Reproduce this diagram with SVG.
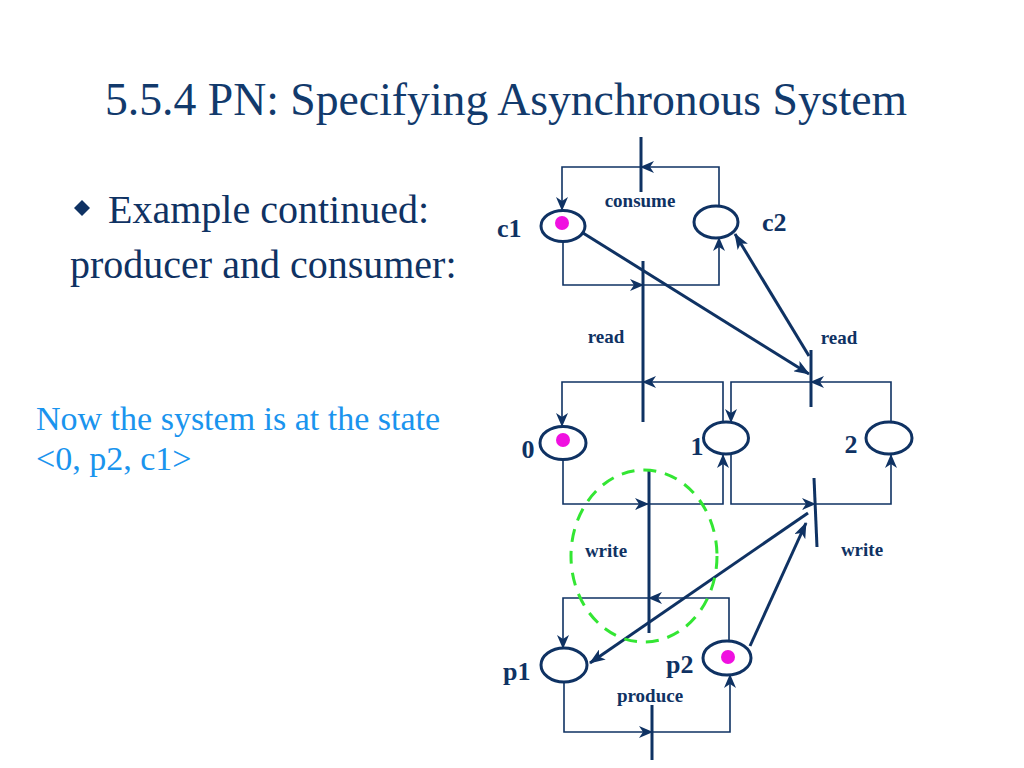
<svg xmlns="http://www.w3.org/2000/svg" width="1024" height="768" viewBox="0 0 1024 768">
<defs>
<style>
.title{font-family:"Liberation Serif","Times New Roman",serif;font-size:45.7px;fill:#123a6c}
.body{font-family:"Liberation Serif","Times New Roman",serif;font-size:40px;fill:#0f3263}
.note{font-family:"Liberation Serif","Times New Roman",serif;font-size:34px;fill:#1a94ee}
.lbl{font-family:"Liberation Serif","Times New Roman",serif;font-weight:bold;font-size:26px;fill:#0f3263}
.tl{font-family:"Liberation Serif","Times New Roman",serif;font-weight:bold;font-size:19px;fill:#0f3263}
.place{fill:#fff;stroke:#0f3263;stroke-width:3}
.token{fill:#f010e0}
.bar{stroke:#0f3263;stroke-width:3;fill:none}
.thin{stroke:#0f3263;stroke-width:1.6;fill:none;marker-end:url(#ah)}
.thick{stroke:#0f3263;stroke-width:3;fill:none;marker-end:url(#ahb)}
.hl{fill:none;stroke:#33e633;stroke-width:3;stroke-dasharray:13 9}
</style>
<marker id="ah" viewBox="0 0 14 12" refX="13" refY="6" markerWidth="14" markerHeight="12" markerUnits="userSpaceOnUse" orient="auto">
<path d="M0,0 L14,6 L0,12 L4,6 z" fill="#0f3263"/>
</marker>
<marker id="ahb" viewBox="0 0 16 12" refX="15" refY="6" markerWidth="16" markerHeight="12" markerUnits="userSpaceOnUse" orient="auto">
<path d="M0,0 L16,6 L0,12 L4,6 z" fill="#0f3263"/>
</marker>
</defs>
<rect width="1024" height="768" fill="#fff"/>

<text class="title" x="105" y="115">5.5.4 PN: Specifying Asynchronous System</text>
<path d="M82,200 L90,208 L82,216 L74,208 z" fill="#0f3263"/>
<text class="body" x="108" y="223">Example continued:</text>
<text class="body" x="70" y="278">producer and consumer:</text>
<text class="note" x="36" y="430">Now the system is at the state</text>
<text class="note" x="36" y="470">&lt;0, p2, c1&gt;</text>

<g id="connectors">
<polyline class="thin" points="719,206 719,167 641,167"/>
<polyline class="thin" points="641,167 562,167 562,210"/>
<polyline class="thin" points="563,242 563,285 643,285"/>
<polyline class="thin" points="643,285 719,285 719,238"/>
<line class="thick" x1="583" y1="233" x2="809" y2="374"/>
<line class="thick" x1="809" y1="356" x2="735" y2="234"/>
<polyline class="thin" points="723,422 723,382 643,382"/>
<polyline class="thin" points="643,382 562,382 562,426"/>
<polyline class="thin" points="891,422 891,382 811,382"/>
<polyline class="thin" points="811,382 731,382 731,422"/>
<polyline class="thin" points="563,460 563,504 648,504"/>
<polyline class="thin" points="648,504 723,504 723,455"/>
<polyline class="thin" points="731,454 731,504 815,504"/>
<polyline class="thin" points="815,504 891,504 891,455"/>
<polyline class="thin" points="729,641 729,598 649,598"/>
<polyline class="thin" points="649,598 563,598 563,648"/>
<line class="thick" x1="808" y1="513" x2="590" y2="663"/>
<line class="thick" x1="750" y1="646" x2="806" y2="523"/>
<polyline class="thin" points="564,682 564,732 652,732"/>
<polyline class="thin" points="652,732 730,732 730,675"/>
</g>

<g id="place-c1"><ellipse class="place" cx="563" cy="226" rx="22" ry="15.5"/><circle class="token" cx="562" cy="223" r="7"/><text class="lbl" x="497" y="237">c1</text></g>
<g id="place-c2"><ellipse class="place" cx="716" cy="222" rx="22" ry="16"/><text class="lbl" x="762" y="231">c2</text></g>
<g id="place-0"><ellipse class="place" cx="563" cy="443" rx="23" ry="16.5"/><circle class="token" cx="563" cy="440" r="7"/><text class="lbl" x="528" y="458" text-anchor="middle">0</text></g>
<g id="place-1"><ellipse class="place" cx="726" cy="438" rx="22.5" ry="16"/><text class="lbl" x="697" y="455" text-anchor="middle">1</text></g>
<g id="place-2"><ellipse class="place" cx="889" cy="438" rx="23" ry="16"/><text class="lbl" x="851" y="453" text-anchor="middle">2</text></g>
<g id="place-p1"><ellipse class="place" cx="564" cy="665" rx="23" ry="17"/><text class="lbl" x="503" y="680">p1</text></g>
<g id="place-p2"><ellipse class="place" cx="727" cy="658" rx="24" ry="17"/><circle class="token" cx="728" cy="657" r="7"/><text class="lbl" x="666" y="673">p2</text></g>

<g id="t-consume"><line class="bar" x1="641" y1="137" x2="641" y2="192"/><text class="tl" x="640" y="207" text-anchor="middle">consume</text></g>
<g id="t-read-left"><line class="bar" x1="643" y1="261" x2="643" y2="422"/><text class="tl" x="606" y="343" text-anchor="middle">read</text></g>
<g id="t-read-right"><line class="bar" x1="811" y1="350" x2="811" y2="407"/><text class="tl" x="839" y="344" text-anchor="middle">read</text></g>
<g id="t-write-left"><line class="bar" x1="649" y1="469" x2="649" y2="633"/><text class="tl" x="606" y="557" text-anchor="middle">write</text></g>
<g id="t-write-right"><line class="bar" x1="814" y1="478" x2="817" y2="547"/><text class="tl" x="862" y="556" text-anchor="middle">write</text></g>
<g id="t-produce"><line class="bar" x1="652" y1="705" x2="652" y2="760"/><text class="tl" x="650" y="702" text-anchor="middle">produce</text></g>

<ellipse id="highlight" class="hl" cx="644" cy="556" rx="73" ry="86"/>
</svg>
